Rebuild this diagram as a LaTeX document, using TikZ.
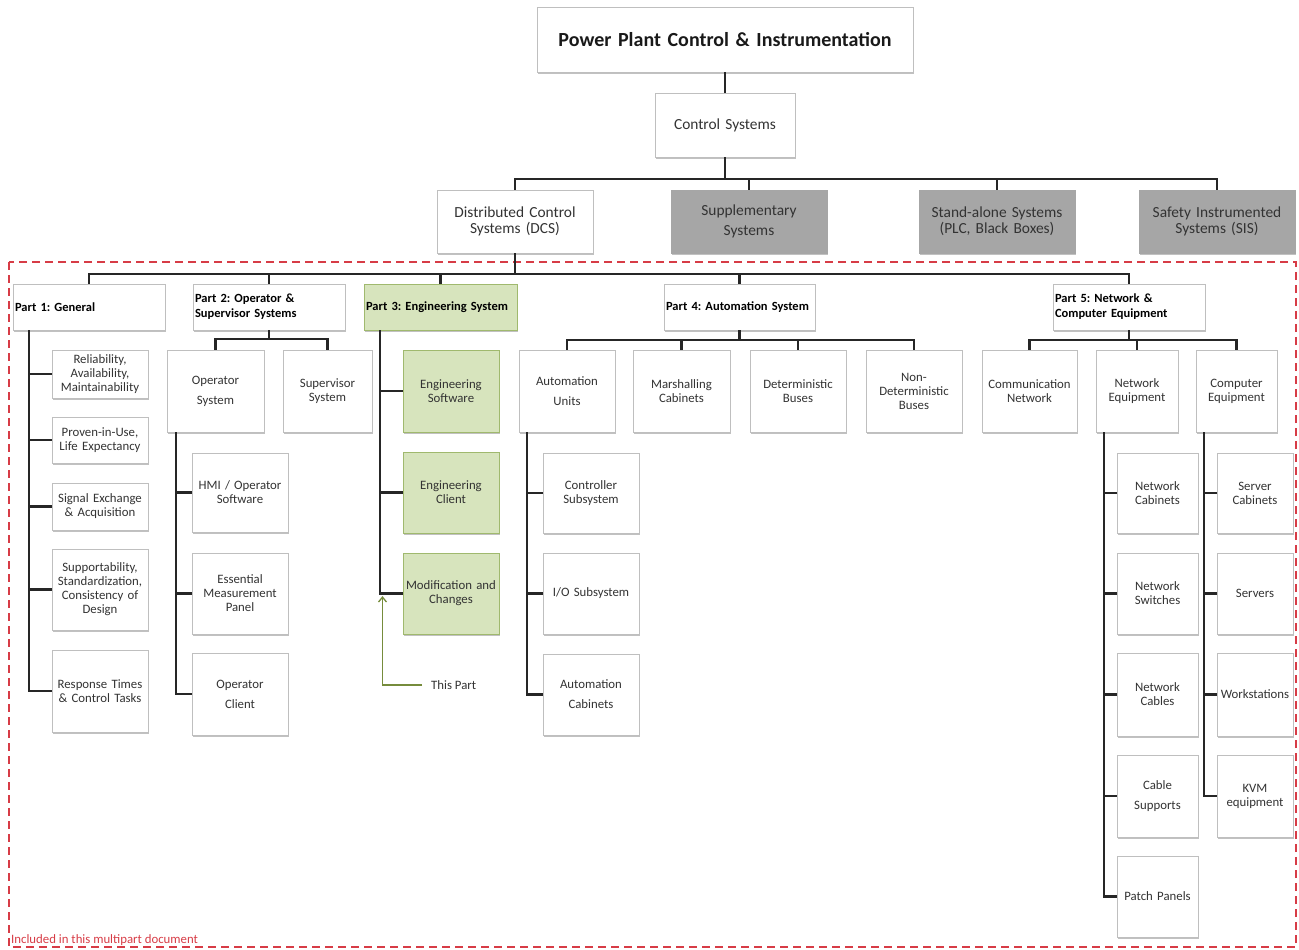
\documentclass[tikz,border=0pt]{standalone}
\usepackage{fontspec}
\setmainfont{Carlito}
\usetikzlibrary{shadows,arrows.meta}
\definecolor{gfill}{RGB}{215,228,189}
\definecolor{gdraw}{RGB}{160,185,110}
\definecolor{gline}{RGB}{118,140,60}
\definecolor{grfill}{RGB}{166,166,166}
\definecolor{redd}{RGB}{215,60,70}
\frenchspacing
\begin{document}
\frenchspacing
\begin{tikzpicture}[x=1pt,y=-1pt,
  box/.style={draw=black!25, fill=white, line width=0.6pt,
    drop shadow={shadow xshift=0.8pt, shadow yshift=-1.6pt, opacity=0.35, fill=black!70},
    align=center, inner xsep=2pt, inner ysep=0pt, text=black!80,
    font=\fontsize{12.8}{14}\selectfont},
  wh/.code 2 args={\pgfmathsetlengthmacro\tw{#1-4}\tikzset{minimum width=#1, minimum height=#2, text width=\tw}},
  lvl/.style={font=\fontsize{15.4}{16}\selectfont},
  part/.style={align=left, text=black, font=\bfseries\fontsize{12.5}{15}\selectfont},
  greenb/.style={fill=gfill, draw=gdraw},
  grayb/.style={fill=grfill, draw=black!35},
  conn/.style={line width=2.1pt, black!85},
  garrow/.style={line width=1.3pt, gline, -{Straight Barb[length=5pt,width=8pt]}},
]
\useasboundingbox (0,0) rectangle (1299,950);

% red dashed region
\draw[redd, line width=1.8pt, dash pattern=on 8pt off 5pt] (9,262) rectangle (1296,947);
\node[anchor=west, inner sep=0pt, text=redd, font=\fontsize{12.8}{14}\selectfont] (note) at (11,940) {Included in this multipart document};

% top levels
\node[box, wh={376}{65}, text=black!90, font=\bfseries\fontsize{20}{22}\selectfont] (title) at (725,39.5) {Power Plant Control \& Instrumentation};
\node[box, wh={140}{64}, font=\fontsize{15.4}{17}\selectfont] (cs) at (725,125) {Control Systems};
\node[box, lvl, wh={156}{63}] (dcs) at (515,221.5) {Distributed Control\\Systems (DCS)};
\node[box, lvl, grayb, wh={156}{63}] (sup) at (749,221.5) {Supplementary\\[4pt]Systems};
\node[box, lvl, grayb, wh={156}{63}] (sa) at (997,221.5) {Stand-alone Systems\\(PLC, Black Boxes)};
\node[box, lvl, grayb, wh={156}{63}] (sis) at (1217,221.5) {Safety Instrumented\\Systems (SIS)};

% parts
\node[box, part, wh={152}{46}] (p1) at (89,307) {Part 1: General};
\node[box, part, wh={152}{46}] (p2) at (269,307) {Part 2: Operator \&\\Supervisor Systems};
\node[box, part, greenb, wh={153}{46}] (p3) at (440.5,307) {Part 3: Engineering System};
\node[box, part, wh={151}{46}] (p4) at (739.5,307) {Part 4: Automation System};
\node[box, part, wh={152}{46}] (p5) at (1129,307) {Part 5: Network \&\\Computer Equipment};

% part 1 children
\node[box, wh={96}{48}] (r1) at (100,374) {Reliability,\\Availability,\\Maintainability};
\node[box, wh={96}{46}] (r2) at (100,440) {Proven-in-Use,\\Life Expectancy};
\node[box, wh={96}{47}] (r3) at (100,506.5) {Signal Exchange\\\& Acquisition};
\node[box, wh={96}{81}] (r4) at (100,589.5) {Supportability,\\Standardization,\\Consistency of\\Design};
\node[box, wh={96}{82}] (r5) at (100,691) {Response Times\\\& Control Tasks\\[16pt]};

% part 2 children
\node[box, wh={97}{82}] (os) at (215.5,391) {Operator\\[6pt]System\\[10pt]};
\node[box, wh={89}{82}] (ss) at (327.5,391) {Supervisor\\System\\[8pt]};
\node[box, wh={96}{79}] (hmi) at (240,492.5) {HMI / Operator\\Software\\[8pt]};
\node[box, wh={96}{81}] (emp) at (240,593.5) {Essential\\Measurement\\Panel};
\node[box, wh={96}{82}] (oc) at (240,694) {Operator\\[6pt]Client};

% part 3 children
\node[box, greenb, wh={96}{82}] (es) at (451,391) {Engineering\\Software\\[6pt]};
\node[box, greenb, wh={96}{81}] (ec) at (451,492.5) {Engineering\\Client};
\node[box, greenb, wh={96}{81}] (mc) at (451,593.5) {Modification and\\Changes\\[8pt]};

% part 4 children
\node[box, wh={96}{82}] (au) at (567,391) {Automation\\[6pt]Units\\[8pt]};
\node[box, wh={97}{82}] (mar) at (681.5,391) {Marshalling\\Cabinets\\[6pt]};
\node[box, wh={96}{82}] (det) at (798,391) {Deterministic\\Buses\\[6pt]};
\node[box, wh={96}{82}] (nd) at (914,391) {Non-\\Deterministic\\Buses};
\node[box, wh={96}{80}] (ctl) at (591,493) {Controller\\Subsystem\\[8pt]};
\node[box, wh={96}{81}] (io) at (591,593.5) {I/O Subsystem};
\node[box, wh={96}{81}] (ac) at (591,694.5) {Automation\\[6pt]Cabinets};

% part 5 children
\node[box, wh={95}{82}] (cn) at (1029.5,391) {Communication\\Network\\[6pt]};
\node[box, wh={82}{82}] (ne) at (1137,391) {Network\\Equipment\\[6pt]};
\node[box, wh={81}{82}] (ce) at (1236.5,391) {Computer\\Equipment\\[6pt]};
\node[box, wh={81}{80}] (nc) at (1157.5,493) {Network\\Cabinets\\[6pt]};
\node[box, wh={81}{81}] (nsw) at (1157.5,593.5) {Network\\Switches\\[6pt]};
\node[box, wh={81}{83}] (ncb) at (1157.5,694.5) {Network\\Cables\\[6pt]};
\node[box, wh={81}{82}] (csu) at (1157.5,796) {Cable\\[6pt]Supports};
\node[box, wh={81}{81}] (pp) at (1157.5,896.5) {Patch Panels};
\node[box, wh={76}{80}] (sc) at (1255,493) {Server\\Cabinets\\[6pt]};
\node[box, wh={76}{81}] (srv) at (1255,593.5) {Servers};
\node[box, wh={76}{83}] (ws) at (1255,694.5) {Workstations};
\node[box, wh={76}{82}] (kvm) at (1255,796) {KVM\\equipment};

% connectors: top
\draw[conn] (title) -- (cs);
\foreach \c in {dcs,sup,sa,sis} \draw[conn] (cs.south) -- ++(0,22) -| (\c.north);
\foreach \c in {p1,p2,p3,p4,p5} \draw[conn] (dcs.south) -- ++(0,21) -| (\c.north);
\foreach \c in {os,ss} \draw[conn] (p2.south) -- ++(0,9) -| (\c.north);
\foreach \c in {au,mar,det,nd} \draw[conn] (p4.south) -- ++(0,10) -| (\c.north);
\foreach \c in {cn,ne,ce} \draw[conn] (p5.south) -- ++(0,10) -| (\c.north);

% spines
\coordinate (s1) at ([xshift=16pt]p1.south west);
\draw[conn] (s1) |- (r5.west);
\foreach \c in {r1,r2,r3,r4} \draw[conn] (s1 |- \c.west) -- (\c.west);
\coordinate (s2) at ([xshift=9pt]os.south west);
\draw[conn] (s2) |- (oc.west);
\foreach \c in {hmi,emp} \draw[conn] (s2 |- \c.west) -- (\c.west);
\coordinate (s3) at ([xshift=16pt]p3.south west);
\draw[conn] (s3) |- (mc.west);
\foreach \c in {es,ec} \draw[conn] (s3 |- \c.west) -- (\c.west);
\coordinate (s4) at ([xshift=8pt]au.south west);
\draw[conn] (s4) |- (ac.west);
\foreach \c in {ctl,io} \draw[conn] (s4 |- \c.west) -- (\c.west);
\coordinate (s5) at ([xshift=8pt]ne.south west);
\draw[conn] (s5) |- (pp.west);
\foreach \c in {nc,nsw,ncb,csu} \draw[conn] (s5 |- \c.west) -- (\c.west);
\coordinate (s6) at ([xshift=8pt]ce.south west);
\draw[conn] (s6) |- (kvm.west);
\foreach \c in {sc,srv,ws} \draw[conn] (s6 |- \c.west) -- (\c.west);

% this part arrow
\node[anchor=west, inner xsep=9pt, inner ysep=0pt, text=black!80, font=\fontsize{12.8}{14}\selectfont] (tp) at (422,685) {This Part};
\coordinate (tip) at (382.5,596);
\draw[garrow] (tp.west) -| (tip);
\end{tikzpicture}
\end{document}
